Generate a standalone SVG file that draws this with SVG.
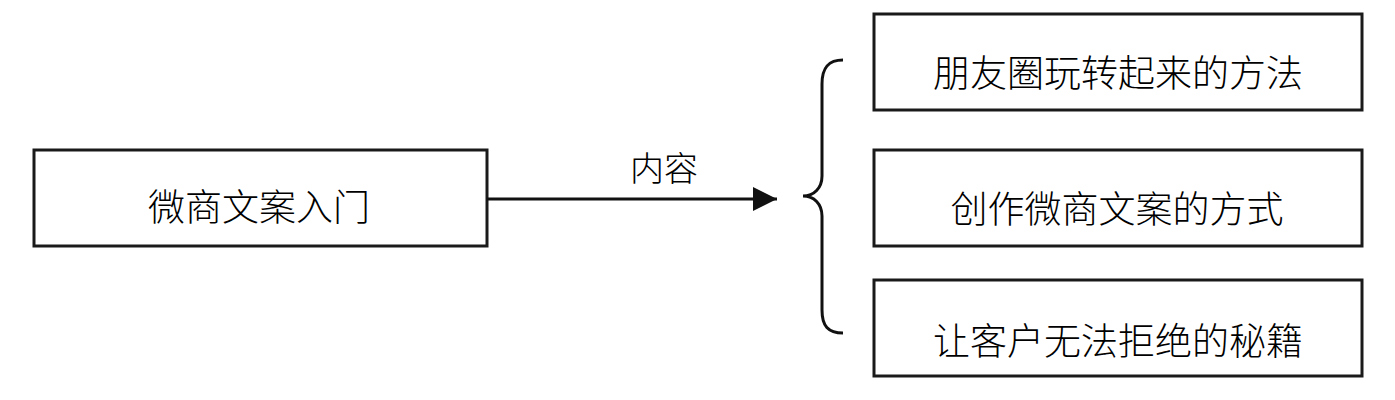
<svg xmlns="http://www.w3.org/2000/svg" width="1395" height="400" viewBox="0 0 1395 400">
<style>
.box{fill:#fff;stroke:#1a1a1a;stroke-width:3}
.t{font-family:"Noto Sans CJK SC","Noto Sans",sans-serif;font-size:37px;font-weight:300;fill:#000;text-anchor:middle}
.c{fill:none;stroke:#111;stroke-width:3}
</style>
<defs>
<marker id="ah" markerWidth="24" markerHeight="24" viewBox="0 0 24 24" refX="24" refY="12" orient="auto" markerUnits="userSpaceOnUse">
<path d="M0,0 L24,12 L0,24 Z" fill="#111"/>
</marker>
</defs>
<rect width="1395" height="400" fill="#fff"/>
<g id="n-root">
<rect class="box" x="34" y="150" width="453" height="96"/>
<text class="t" x="259" y="221">微商文案入门</text>
</g>
<g id="n-1">
<rect class="box" x="874" y="14" width="488" height="96"/>
<text class="t" x="1118" y="87">朋友圈玩转起来的方法</text>
</g>
<g id="n-2">
<rect class="box" x="874" y="150" width="488" height="96"/>
<text class="t" x="1117" y="223">创作微商文案的方式</text>
</g>
<g id="n-3">
<rect class="box" x="874" y="280" width="488" height="96"/>
<text class="t" x="1118" y="355">让客户无法拒绝的秘籍</text>
</g>
<g id="connectors">
<line class="c" x1="487" y1="199" x2="777" y2="199" marker-end="url(#ah)"/>
<text class="t" x="664" y="181" style="font-size:34px">内容</text>
<path class="c" d="M843,60 C828,60 822,68 822,84 L822,176 C822,188 814,196 803,196 C814,196 822,204 822,216 L822,310 C822,326 828,333 843,333"/>
</g>
</svg>
